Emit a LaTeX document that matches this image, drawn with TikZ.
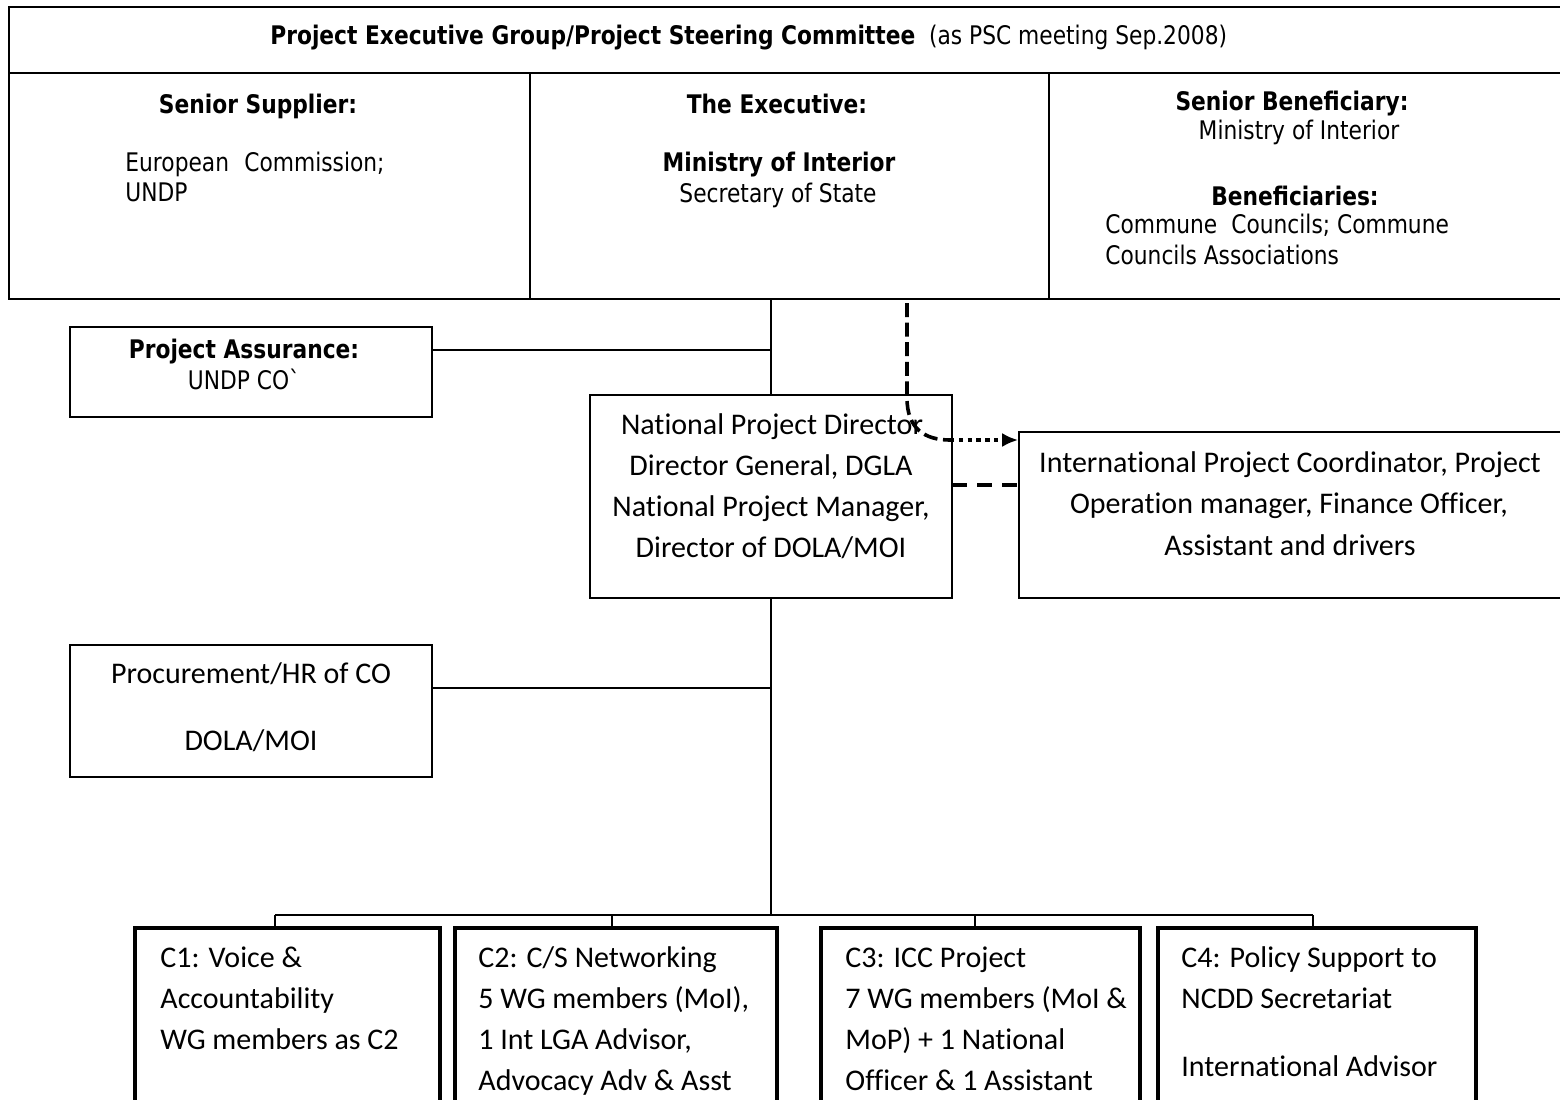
\documentclass[tikz,border=0pt]{standalone}
\usepackage{fontspec}
\setmainfont{Carlito}[Ligatures={NoCommon,NoRare}]
\newfontfamily\tah[FakeStretch=0.85]{DejaVu Sans}
\usetikzlibrary{fit,arrows.meta}
\begin{document}
\begin{tikzpicture}[x=0.5pt,y=-0.5pt,
  cell/.style={draw, line width=1.1pt, inner sep=0pt},
  plainbox/.style={draw, line width=0.8pt, inner sep=0pt},
  compbox/.style={draw, line width=2.3pt, inner sep=0pt},
  tt/.style={font=\tah\fontsize{12.8}{15}\selectfont, inner sep=0pt},
  tb/.style={font=\tah\bfseries\fontsize{12.8}{15}\selectfont, inner sep=0pt},
  ct/.style={font=\fontsize{15}{18}\selectfont, inner sep=0pt},
  link/.style={line width=0.8pt},
  dashv/.style={line width=1.8pt, dash pattern=on 7pt off 2.8pt},
  dashh/.style={line width=1.8pt, dash pattern=on 7.5pt off 5pt},
  dotl/.style={line width=1.8pt, dash pattern=on 2.2pt off 2.2pt},
]
\useasboundingbox (0,0) rectangle (1560,1099);
\clip (0,0) rectangle (1560,1099);
\fill[white] (0,0) rectangle (1560,1099);

% top table
\node[cell, fit={(9,7) (1580,73)}] (psc) {};
\node[cell, fit={(9,73) (530,299)}] (sup) {};
\node[cell, fit={(530,73) (1049,299)}] (exe) {};
\node[cell, fit={(1049,73) (1580,299)}] (ben) {};

\node[anchor=base west, inner sep=0pt] (hdr) at (270,44)
  {\tah\fontsize{12.8}{15}\selectfont\textbf{Project Executive Group/Project Steering Committee}\ \ (as PSC meeting Sep.2008)};

\node[tb, anchor=base] (supt) at (258,113) {Senior Supplier:};
\node[tt, anchor=base west] (sup1) at (125,171) {European\hspace{0.6em}Commission;};
\node[tt, anchor=base west] (sup2) at (125,201) {UNDP};

\node[tb, anchor=base] (exet) at (777,113) {The Executive:};
\node[tb, anchor=base] (exe1) at (779,171) {Ministry of Interior};
\node[tt, anchor=base] (exe2) at (778,202) {Secretary of State};

\node[tb, anchor=base] (bent) at (1292,110) {Senior Beneficiary:};
\node[tt, anchor=base] (ben1) at (1299,139) {Ministry of Interior};
\node[tb, anchor=base] (ben2) at (1295,205) {Beneficiaries:};
\node[tt, anchor=base west] (ben3) at (1105,233) {Commune\hspace{0.55em}Councils; Commune};
\node[tt, anchor=base west] (ben4) at (1105,264) {Councils Associations};

% project assurance
\node[plainbox, fit={(70,327) (432,417)}] (pa) {};
\node[tb, anchor=base] (pat) at (244,358) {Project Assurance:};
\node[tt, anchor=base] (pa1) at (244,389) {UNDP CO`};

% national project director
\node[plainbox, fit={(590,395) (952,598)}] (npd) {};
\node[ct, anchor=base] (npd1) at (772,434) {National Project Director};
\node[ct, anchor=base] (npd2) at (771,475) {Director General, DGLA};
\node[ct, anchor=base] (npd3) at (771,516) {National Project Manager,};
\node[ct, anchor=base] (npd4) at (771,557) {Director of DOLA/MOI};

% international project coordinator
\node[plainbox, fit={(1019,432) (1580,598)}] (ipc) {};
\node[ct, anchor=base] (ipc1) at (1290,472) {International Project Coordinator, Project};
\node[ct, anchor=base] (ipc2) at (1289,513) {Operation manager, Finance Officer,};
\node[ct, anchor=base] (ipc3) at (1290,555) {Assistant and drivers};

% procurement
\node[plainbox, fit={(70,645) (432,777)}] (proc) {};
\node[ct, anchor=base] (proc1) at (251,683) {Procurement/HR of CO};
\node[ct, anchor=base] (proc2) at (251,750) {DOLA/MOI};

% components
\node[compbox, fit={(135,928) (440,1140)}] (c1) {};
\node[compbox, fit={(455,928) (777,1140)}] (c2) {};
\node[compbox, fit={(821,928) (1140,1140)}] (c3) {};
\node[compbox, fit={(1158,928) (1476,1140)}] (c4) {};

\node[ct, anchor=base west] (c1a) at (160,967) {C1: Voice \&};
\node[ct, anchor=base west] (c1b) at (160,1008) {Accountability};
\node[ct, anchor=base west] (c1c) at (160,1049) {WG members as C2};

\node[ct, anchor=base west] (c2a) at (478,967) {C2: C/S Networking};
\node[ct, anchor=base west] (c2b) at (478,1008) {5 WG members (MoI),};
\node[ct, anchor=base west] (c2c) at (478,1049) {1 Int LGA Advisor,};
\node[ct, anchor=base west] (c2d) at (478,1090) {Advocacy Adv \& Asst};

\node[ct, anchor=base west] (c3a) at (845,967) {C3: ICC Project};
\node[ct, anchor=base west] (c3b) at (845,1008) {7 WG members (MoI \&};
\node[ct, anchor=base west] (c3c) at (845,1049) {MoP) + 1 National};
\node[ct, anchor=base west] (c3d) at (845,1090) {Officer \& 1 Assistant};

\node[ct, anchor=base west] (c4a) at (1181,967) {C4: Policy Support to};
\node[ct, anchor=base west] (c4b) at (1181,1008) {NCDD Secretariat};
\node[ct, anchor=base west] (c4c) at (1181,1076) {International Advisor};

% connectors
\draw[link] (npd.north |- exe.south) -- (npd.north);
\coordinate (paj) at (432,350);
\draw[link] (paj) -- (paj -| npd.north);
\coordinate (prj) at (432,688);
\draw[link] (prj) -- (prj -| npd.south);
\coordinate (busL) at (275,915);
\coordinate (busR) at (1313,915);
\coordinate (busB) at (612,915);
\coordinate (busC) at (975,915);
\draw[link] (npd.south) -- (npd.south |- busL);
\draw[link] (busL) -- (busR);
\draw[link] (busL) -- (busL |- c1.north);
\draw[link] (busB) -- (busB |- c2.north);
\draw[link] (busC) -- (busC |- c3.north);
\draw[link] (busR) -- (busR |- c4.north);

% steering committee to coordinator
\coordinate (dtop) at (907,303);
\coordinate (dbend) at (950,440);
\draw[dashv] (dtop) -- (907,398) .. controls (907,428) and (924,440) .. (dbend);
\draw[dotl, -{Latex[length=8pt,width=7pt]}] (dbend) -- (dbend -| ipc.west);
\coordinate (hd) at (952,485);
\draw[dashh] (hd) -- (hd -| ipc.west);
\end{tikzpicture}
\end{document}
